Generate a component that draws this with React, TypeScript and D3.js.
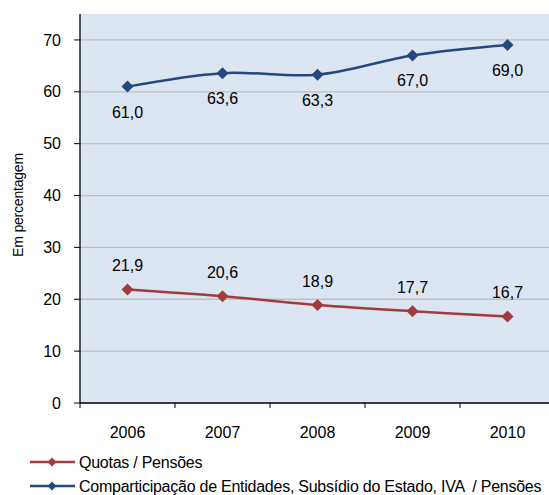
import React from "react";
import * as d3 from "d3";

const years = ["2006", "2007", "2008", "2009", "2010"];
const quotas = [21.9, 20.6, 18.9, 17.7, 16.7];
const comp = [61.0, 63.6, 63.3, 67.0, 69.0];
const yTicks = [0, 10, 20, 30, 40, 50, 60, 70];
const seriesNames = ["Quotas / Pensões", "Comparticipação de Entidades, Subsídio do Estado, IVA  / Pensões"];

const W = 549, H = 495;
const left = 80, top = 14, bottom = 403, right = 555;
const font = "'Liberation Sans', Arial, sans-serif";

export default function App() {
  const x = d3.scaleBand<string>().domain(years).range([left, right]);
  const y = d3.scaleLinear().domain([0, 75]).range([bottom, top]);
  const cx = (yr: string) => (x(yr) as number) + x.bandwidth() / 2;
  const line = d3
    .line<number>()
    .x((_, i) => cx(years[i]))
    .y((d) => y(d))
    .curve(d3.curveCatmullRom.alpha(0.5));
  const red = "#A23B3B";
  const blue = "#23497E";
  const diamond = (px: number, py: number, c: string, s = 6) => (
    <path d={`M${px},${py - s}L${px + s},${py}L${px},${py + s}L${px - s},${py}Z`} fill={c} />
  );
  const fmt = (v: number) => v.toFixed(1).replace(".", ",");
  return (
    <svg width={W} height={H} style={{ position: "absolute", left: 0, top: 0 }} fontFamily={font}>
      <rect x={0} y={0} width={W} height={H} fill="#fff" />
      <rect x={left} y={top} width={right - left} height={bottom - top} fill="#DCE6F2" />
      {yTicks.slice(1).map((t) => (
        <line key={t} x1={left} x2={right} y1={y(t)} y2={y(t)} stroke="#BFBFBF" strokeWidth={1.3} />
      ))}
      <line x1={left} x2={left} y1={top} y2={bottom} stroke="#000" strokeWidth={1.3} />
      <line x1={left} x2={right} y1={bottom} y2={bottom} stroke="#000" strokeWidth={1.3} />
      {yTicks.map((t) => (
        <g key={t}>
          <line x1={left - 6} x2={left} y1={y(t)} y2={y(t)} stroke="#000" />
          <text x={left - 19} y={y(t)} dy="0.35em" textAnchor="end" fontSize={16}>
            {t}
          </text>
        </g>
      ))}
      {years.map((yr, i) => (
        <g key={yr}>
          <line x1={(x(yr) as number)} x2={(x(yr) as number)} y1={bottom} y2={bottom + 5} stroke="#000" />
          <text x={cx(yr)} y={bottom + 35} textAnchor="middle" fontSize={16}>
            {yr}
          </text>
        </g>
      ))}
      <text transform={`translate(23,205) rotate(-90)`} textAnchor="middle" fontSize={14} letterSpacing={-0.2}>
        Em percentagem
      </text>
      <path d={line(comp) || ""} fill="none" stroke={blue} strokeWidth={2.5} />
      <path d={line(quotas) || ""} fill="none" stroke={red} strokeWidth={2.5} />
      {comp.map((v, i) => (
        <g key={"c" + i}>
          {diamond(cx(years[i]), y(v), blue)}
          <text x={cx(years[i])} y={y(v) + 31} textAnchor="middle" fontSize={16}>
            {fmt(v)}
          </text>
        </g>
      ))}
      {quotas.map((v, i) => (
        <g key={"q" + i}>
          {diamond(cx(years[i]), y(v), red)}
          <text x={cx(years[i])} y={y(v) - 18} textAnchor="middle" fontSize={16}>
            {fmt(v)}
          </text>
        </g>
      ))}
      {seriesNames.map((n, i) => {
        const ly = 462 + i * 24;
        const c = i === 0 ? red : blue;
        return (
          <g key={n}>
            <line x1={30} x2={75} y1={ly} y2={ly} stroke={c} strokeWidth={2.5} />
            {diamond(52, ly, c, 4.5)}
            <text x={79} y={ly} dy="0.35em" fontSize={16} letterSpacing={-0.25} style={{ whiteSpace: "pre" }}>
              {n}
            </text>
          </g>
        );
      })}
    </svg>
  );
}
